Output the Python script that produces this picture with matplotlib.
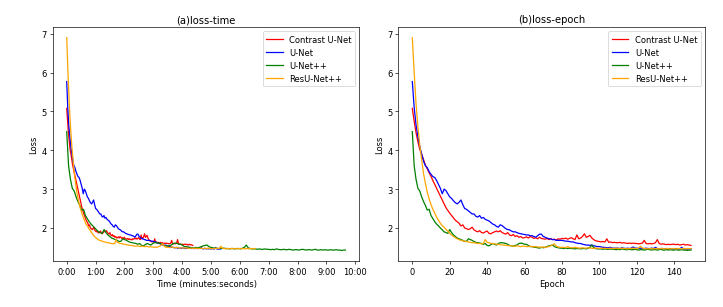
import numpy as np
import matplotlib
matplotlib.use("Agg")
import matplotlib.pyplot as plt
from matplotlib.ticker import FuncFormatter, MultipleLocator

models = ["Contrast U-Net", "U-Net", "U-Net++", "ResU-Net++"]
colors = ["red", "blue", "green", "orange"]

# seconds of training time per epoch for each model
sec_per_epoch = [1.76, 2.15, 3.89, 2.63]

loss_contrast = [
    5.08, 4.75, 4.45, 4.22, 4.02, 3.90, 3.76, 3.62, 3.52, 3.42,
    3.33, 3.22, 3.12, 3.02, 2.92, 2.82, 2.72, 2.62, 2.52, 2.45,
    2.38, 2.32, 2.26, 2.20, 2.16, 2.12, 2.05, 2.08, 2.00, 1.98,
    1.96, 1.98, 2.02, 1.95, 1.92, 1.90, 1.93, 1.88, 1.87, 1.90,
    1.92, 1.86, 1.85, 1.88, 1.90, 1.92, 1.90, 1.93, 1.88, 1.86,
    1.84, 1.88, 1.82, 1.80, 1.83, 1.78, 1.80, 1.76, 1.78, 1.74,
    1.75, 1.77, 1.74, 1.78, 1.76, 1.73, 1.75, 1.72, 1.76, 1.73,
    1.72, 1.71, 1.73, 1.70, 1.72, 1.70, 1.71, 1.69, 1.72, 1.71,
    1.73, 1.72, 1.74, 1.71, 1.73, 1.75, 1.72, 1.70, 1.82, 1.72,
    1.74, 1.78, 1.85, 1.76, 1.78, 1.81, 1.74, 1.70, 1.67, 1.66,
    1.65, 1.64, 1.65, 1.64, 1.72, 1.63, 1.64, 1.62, 1.63, 1.62,
    1.62, 1.63, 1.61, 1.62, 1.61, 1.60, 1.61, 1.60, 1.61, 1.60,
    1.60, 1.59, 1.60, 1.61, 1.68, 1.60, 1.59, 1.60, 1.59, 1.60,
    1.62, 1.70, 1.60, 1.58, 1.59, 1.58, 1.57, 1.58, 1.57, 1.58,
    1.58, 1.57, 1.58, 1.56, 1.57, 1.58, 1.56, 1.57, 1.56, 1.55,
]

loss_unet = [
    5.77, 5.10, 4.65, 4.35, 4.10, 3.90, 3.72, 3.60, 3.55, 3.45,
    3.38, 3.32, 3.30, 3.22, 3.12, 3.02, 2.88, 3.00, 2.96, 2.88,
    2.80, 2.76, 2.70, 2.65, 2.62, 2.66, 2.72, 2.60, 2.50, 2.48,
    2.44, 2.40, 2.36, 2.36, 2.30, 2.28, 2.32, 2.25, 2.27, 2.22,
    2.20, 2.18, 2.14, 2.10, 2.08, 2.04, 2.02, 2.08, 2.06, 2.02,
    1.98, 1.96, 1.95, 1.92, 1.90, 1.90, 1.88, 1.86, 1.85, 1.84,
    1.83, 1.82, 1.82, 1.80, 1.80, 1.78, 1.76, 1.80, 1.84, 1.84,
    1.78, 1.76, 1.74, 1.72, 1.72, 1.70, 1.70, 1.68, 1.68, 1.68,
    1.68, 1.67, 1.66, 1.66, 1.65, 1.64, 1.64, 1.62, 1.61, 1.60,
    1.60, 1.58, 1.57, 1.56, 1.56, 1.55, 1.56, 1.54, 1.53, 1.52,
    1.52, 1.51, 1.50, 1.50, 1.49, 1.49, 1.50, 1.48, 1.48, 1.48,
    1.48, 1.47, 1.49, 1.48, 1.47, 1.48, 1.47, 1.48, 1.51, 1.48,
    1.48, 1.47, 1.48, 1.47, 1.47, 1.48, 1.47, 1.47, 1.48, 1.47,
    1.50, 1.47, 1.46, 1.47, 1.47, 1.46, 1.47, 1.46, 1.47, 1.46,
    1.46, 1.47, 1.46, 1.46, 1.50, 1.46, 1.46, 1.45, 1.46, 1.46,
]

loss_unetpp = [
    4.48, 3.60, 3.25, 3.02, 2.95, 2.80, 2.68, 2.58, 2.46, 2.48,
    2.32, 2.24, 2.16, 2.10, 2.05, 2.00, 1.95, 1.90, 1.88, 1.86,
    1.96, 1.88, 1.82, 1.78, 1.74, 1.72, 1.70, 1.68, 1.65, 1.66,
    1.72, 1.70, 1.68, 1.65, 1.63, 1.62, 1.61, 1.60, 1.58, 1.60,
    1.55, 1.54, 1.57, 1.60, 1.58, 1.56, 1.60, 1.62, 1.62, 1.61,
    1.60, 1.58, 1.55, 1.54, 1.53, 1.55, 1.56, 1.60, 1.61, 1.60,
    1.58, 1.58, 1.55, 1.52, 1.52, 1.50, 1.50, 1.49, 1.48, 1.50,
    1.49, 1.50, 1.52, 1.54, 1.55, 1.56, 1.52, 1.50, 1.49, 1.48,
    1.48, 1.47, 1.48, 1.47, 1.48, 1.47, 1.47, 1.46, 1.47, 1.47,
    1.46, 1.47, 1.47, 1.46, 1.48, 1.50, 1.56, 1.49, 1.47, 1.46,
    1.46, 1.46, 1.45, 1.46, 1.45, 1.45, 1.46, 1.45, 1.45, 1.44,
    1.45, 1.44, 1.46, 1.45, 1.44, 1.44, 1.45, 1.44, 1.44, 1.45,
    1.44, 1.43, 1.44, 1.44, 1.43, 1.44, 1.45, 1.44, 1.43, 1.44,
    1.44, 1.43, 1.44, 1.45, 1.43, 1.43, 1.44, 1.43, 1.44, 1.43,
    1.43, 1.44, 1.43, 1.43, 1.44, 1.43, 1.43, 1.42, 1.43, 1.43,
]

loss_resunetpp = [
    6.90, 6.00, 5.20, 4.60, 4.12, 3.75, 3.40, 3.15, 2.92, 2.75,
    2.60, 2.48, 2.38, 2.28, 2.20, 2.12, 2.06, 2.02, 1.96, 1.92,
    1.86, 1.82, 1.78, 1.75, 1.72, 1.70, 1.68, 1.67, 1.66, 1.65,
    1.64, 1.63, 1.62, 1.62, 1.61, 1.60, 1.60, 1.59, 1.60, 1.70,
    1.63, 1.62, 1.60, 1.60, 1.59, 1.58, 1.58, 1.57, 1.56, 1.56,
    1.55, 1.55, 1.54, 1.54, 1.53, 1.53, 1.54, 1.53, 1.52, 1.53,
    1.53, 1.52, 1.52, 1.53, 1.52, 1.51, 1.52, 1.51, 1.51, 1.50,
    1.51, 1.50, 1.51, 1.52, 1.54, 1.57, 1.59, 1.53, 1.51, 1.50,
    1.50, 1.50, 1.49, 1.52, 1.50, 1.49, 1.49, 1.50, 1.49, 1.48,
    1.48, 1.49, 1.48, 1.48, 1.49, 1.48, 1.48, 1.47, 1.48, 1.48,
    1.47, 1.48, 1.47, 1.48, 1.47, 1.47, 1.48, 1.47, 1.47, 1.48,
    1.47, 1.47, 1.48, 1.47, 1.47, 1.46, 1.47, 1.47, 1.48, 1.47,
    1.47, 1.48, 1.53, 1.48, 1.47, 1.47, 1.46, 1.47, 1.47, 1.46,
    1.47, 1.47, 1.46, 1.47, 1.47, 1.46, 1.47, 1.47, 1.46, 1.47,
    1.47, 1.46, 1.47, 1.47, 1.46, 1.47, 1.47, 1.46, 1.47, 1.47,
]

losses = [loss_contrast, loss_unet, loss_unetpp, loss_resunetpp]

fig, (ax1, ax2) = plt.subplots(1, 2, figsize=(12.05, 5.1333), dpi=60)
ax1.set_position([0.073, 0.149, 0.424, 0.760])
ax2.set_position([0.551, 0.149, 0.424, 0.760])

for name, col, spe, loss in zip(models, colors, sec_per_epoch, losses):
    epochs = np.arange(len(loss))
    times = epochs * spe
    ax1.plot(times, loss, color=col, label=name)
    ax2.plot(epochs, loss, color=col, label=name)

ax1.xaxis.set_major_locator(MultipleLocator(60))
ax1.xaxis.set_major_formatter(FuncFormatter(lambda v, p: f"{int(v // 60)}:{int(v % 60):02d}"))
ax1.set_xlabel("Time (minutes:seconds)")
ax1.set_ylabel("Loss")
ax1.set_title("(a)loss-time")
ax1.legend(loc="upper right")

ax2.set_xlabel("Epoch")
ax2.set_ylabel("Loss")
ax2.set_title("(b)loss-epoch")
ax2.legend(loc="upper right")

fig.savefig("out.png", dpi=60)
